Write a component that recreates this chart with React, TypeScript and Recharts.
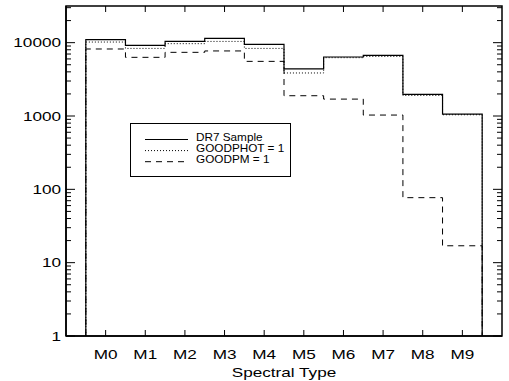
import React from "react";
import { ComposedChart, Line, XAxis, YAxis, Legend, ReferenceArea, ReferenceLine } from "recharts";

// spectral type bins M0..M9 (numeric positions 0..9)
const spectralTypes = ["M0", "M1", "M2", "M3", "M4", "M5", "M6", "M7", "M8", "M9"];
const typePositions = [0, 1, 2, 3, 4, 5, 6, 7, 8, 9];

// counts per bin
const dr7Sample = [11000, 9190, 10400, 11450, 9480, 4380, 6380, 6710, 1970, 1063];
const goodPhot = [10200, 8350, 9690, 10400, 8350, 3860, 6240, 6500, 1910, 1040];
const goodPm = [8200, 6310, 7380, 7710, 5560, 1890, 1700, 1030, 77, 17];

// log axis ticks
const decadeTicks = [1, 10, 100, 1000, 10000];
const minorTicks = [
  2, 3, 4, 5, 6, 7, 8, 9,
  20, 30, 40, 50, 60, 70, 80, 90,
  200, 300, 400, 500, 600, 700, 800, 900,
  2000, 3000, 4000, 5000, 6000, 7000, 8000, 9000,
  20000, 30000,
];
const allYTicks = [...decadeTicks, ...minorTicks].sort((a, b) => a - b);

const X_DOMAIN = [-1, 10];
const Y_DOMAIN = [1, 31623];

const FONT = '"Liberation Sans", Arial, Helvetica, sans-serif';
const STRETCH = 1.27;
const MARGIN = 5;

const WIDTH = 509;
const HEIGHT = 381;
const CHART_MARGIN = { top: 6, right: 7, bottom: 0, left: 0 };
const Y_AXIS_W = 66;
const X_AXIS_H = 45;

// pixel size of one x unit / one decade, used for the tick stub lengths
const X_UNIT_PX = (WIDTH - CHART_MARGIN.right - Y_AXIS_W) / (X_DOMAIN[1] - X_DOMAIN[0]);
const DECADE_PX = (HEIGHT - CHART_MARGIN.top - X_AXIS_H) / Math.log10(Y_DOMAIN[1] / Y_DOMAIN[0]);

// outline of a histogram: drop to the floor on both ends, flat tops across each bin
function histogramSteps(counts: number[]) {
  const pts: { x: number; n: number }[] = [{ x: -0.5, n: 1 }];
  counts.forEach((c, i) => {
    pts.push({ x: i - 0.5, n: c }, { x: i + 0.5, n: c });
  });
  pts.push({ x: counts.length - 0.5, n: 1 });
  return pts;
}

const yTickLength = (v: number) => (decadeTicks.includes(v) ? 9 : 5);

const YTick = (props: any) => {
  const { x, y, payload } = props;
  const edge = x + MARGIN;
  const major = decadeTicks.includes(payload.value);
  return (
    <g>
      <line x1={edge} x2={edge + yTickLength(payload.value)} y1={y} y2={y} stroke="#000" strokeWidth={1} />
      {major && (
        <text
          transform={`translate(${x} ${y}) scale(${STRETCH} 1)`}
          dy={4.8}
          textAnchor="end"
          fontSize={13.5}
          fontFamily={FONT}
          fill="#000"
        >
          {payload.value}
        </text>
      )}
    </g>
  );
};

const XTick = (props: any) => {
  const { x, y, payload } = props;
  const edge = y - MARGIN;
  return (
    <g>
      <line x1={x} x2={x} y1={edge} y2={edge - 6} stroke="#000" strokeWidth={1} />
      <text
        transform={`translate(${x} ${edge + 22.5}) scale(${STRETCH} 1)`}
        textAnchor="middle"
        fontSize={13.5}
        fontFamily={FONT}
        fill="#000"
      >
        {spectralTypes[payload.value]}
      </text>
    </g>
  );
};

const AxisTitle = (props: any) => {
  const { viewBox } = props;
  const cx = viewBox.x + viewBox.width / 2;
  return (
    <text
      transform={`translate(${cx} ${viewBox.y + 41}) scale(${STRETCH} 1)`}
      textAnchor="middle"
      fontSize={13.5}
      fontFamily={FONT}
      fill="#000"
    >
      Spectral Type
    </text>
  );
};

const legendRows = [
  { name: "DR7 Sample", dash: undefined as string | undefined },
  { name: "GOODPHOT = 1", dash: "1 2" },
  { name: "GOODPM = 1", dash: "6 5" },
];

const LegendBox = () => (
  <svg width={161} height={54} style={{ display: "block" }}>
    <rect x={0.5} y={0.5} width={160} height={53} fill="#fff" stroke="#000" strokeWidth={1} />
    {legendRows.map((row, i) => {
      const ry = 16.5 + i * 11.1;
      return (
        <g key={row.name}>
          <line x1={15} x2={58} y1={ry} y2={ry} stroke="#000" strokeWidth={1} strokeDasharray={row.dash} />
          <text
            transform={`translate(66 ${ry + 1}) scale(1.05 1)`}
            fontSize={11.2}
            fontFamily={FONT}
            fill="#000"
          >
            {row.name}
          </text>
        </g>
      );
    })}
  </svg>
);

export default function App() {
  const axisLine = { stroke: "#000", strokeWidth: 1.5 };
  const xRight = X_DOMAIN[1];
  const yTop = Y_DOMAIN[1];
  const topStubEnd = yTop / Math.pow(10, 6 / DECADE_PX);
  return (
    <div style={{ position: "absolute", left: 0, top: 0, background: "#fff" }}>
      <ComposedChart width={WIDTH} height={HEIGHT} margin={CHART_MARGIN}>
        <XAxis
          type="number"
          dataKey="x"
          domain={X_DOMAIN}
          ticks={typePositions}
          interval={0}
          allowDataOverflow
          height={X_AXIS_H}
          axisLine={axisLine}
          tickLine={false}
          tickSize={0}
          tickMargin={MARGIN}
          tick={<XTick />}
          label={<AxisTitle />}
        />
        <YAxis
          scale="log"
          domain={Y_DOMAIN}
          ticks={allYTicks}
          interval={0}
          allowDataOverflow
          width={Y_AXIS_W}
          axisLine={axisLine}
          tickLine={false}
          tickSize={0}
          tickMargin={MARGIN}
          tick={<YTick />}
        />
        {/* box around the plotting area */}
        <ReferenceArea
          x1={X_DOMAIN[0]}
          x2={X_DOMAIN[1]}
          y1={Y_DOMAIN[0]}
          y2={Y_DOMAIN[1]}
          fill="none"
          fillOpacity={0}
          stroke="#000"
          strokeWidth={1.5}
        />
        {/* inward ticks on the right edge */}
        {allYTicks.map((v) => (
          <ReferenceLine
            key={`r${v}`}
            ifOverflow="visible"
            segment={[
              { x: xRight, y: v },
              { x: xRight - yTickLength(v) / X_UNIT_PX, y: v },
            ]}
            stroke="#000"
            strokeWidth={1}
          />
        ))}
        {/* inward ticks on the top edge */}
        {typePositions.map((p) => (
          <ReferenceLine
            key={`t${p}`}
            ifOverflow="visible"
            segment={[
              { x: p, y: yTop },
              { x: p, y: topStubEnd },
            ]}
            stroke="#000"
            strokeWidth={1}
          />
        ))}
        <Legend
          layout="horizontal"
          verticalAlign="middle"
          align="center"
          wrapperStyle={{ left: 130, top: 123, width: 161, height: 54 }}
          content={() => <LegendBox />}
        />
        <Line
          data={histogramSteps(dr7Sample)}
          dataKey="n"
          type="linear"
          stroke="#000"
          strokeWidth={1.2}
          dot={false}
          isAnimationActive={false}
        />
        <Line
          data={histogramSteps(goodPhot)}
          dataKey="n"
          type="linear"
          stroke="#000"
          strokeWidth={1}
          strokeDasharray="1 2"
          dot={false}
          isAnimationActive={false}
        />
        <Line
          data={histogramSteps(goodPm)}
          dataKey="n"
          type="linear"
          stroke="#000"
          strokeWidth={1}
          strokeDasharray="6 5"
          dot={false}
          isAnimationActive={false}
        />
      </ComposedChart>
    </div>
  );
}
